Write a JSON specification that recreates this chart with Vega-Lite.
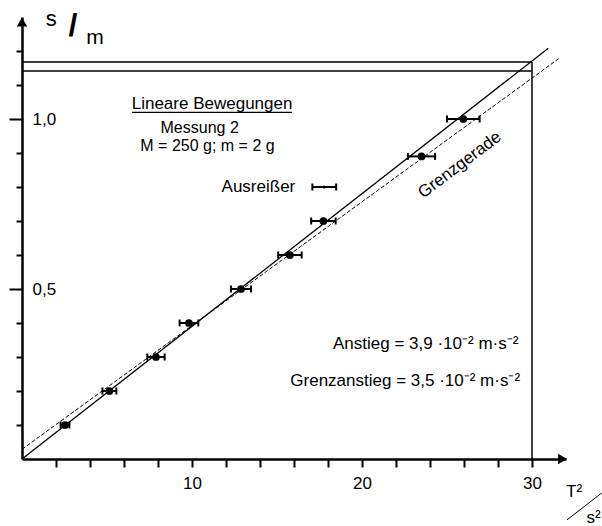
{
  "$schema": "https://vega.github.io/schema/vega-lite/v6.json",
  "width": 544,
  "height": 442,
  "autosize": {"type": "none"},
  "padding": {"left": 22, "top": 17, "right": 36, "bottom": 67},
  "background": "white",
  "config": {
    "view": {"stroke": null},
    "font": "Liberation Sans",
    "text": {"font": "Liberation Sans", "color": "black"},
    "axis": {"labelFont": "Liberation Sans", "labelColor": "black", "domainColor": "black", "tickColor": "black", "grid": false, "title": null}
  },
  "datasets": {
    "pts": [
      {"T2": 2.53, "s": 0.1, "lo": 2.27, "hi": 2.79, "kind": "Messung"},
      {"T2": 5.14, "s": 0.2, "lo": 4.73, "hi": 5.55, "kind": "Messung"},
      {"T2": 7.88, "s": 0.3, "lo": 7.37, "hi": 8.39, "kind": "Messung"},
      {"T2": 9.82, "s": 0.4, "lo": 9.27, "hi": 10.37, "kind": "Messung"},
      {"T2": 12.88, "s": 0.5, "lo": 12.29, "hi": 13.47, "kind": "Messung"},
      {"T2": 15.76, "s": 0.6, "lo": 15.07, "hi": 16.45, "kind": "Messung"},
      {"T2": 17.73, "s": 0.7, "lo": 17.01, "hi": 18.45, "kind": "Messung"},
      {"T2": 17.78, "s": 0.8, "lo": 17.08, "hi": 18.48, "kind": "Ausreißer"},
      {"T2": 23.5, "s": 0.89, "lo": 22.7, "hi": 24.3, "kind": "Messung"},
      {"T2": 25.96, "s": 1.0, "lo": 25.0, "hi": 26.92, "kind": "Messung"}
    ],
    "lines": [
      {"line": "Anstieg", "T2": 0, "s": 0},
      {"line": "Anstieg", "T2": 30.96, "s": 1.208},
      {"line": "Grenz", "T2": 0, "s": 0.0285},
      {"line": "Grenz", "T2": 31.6, "s": 1.1785}
    ],
    "frame": [
      {"x1": 0, "x2": 30, "y1": 1.168, "y2": 1.168},
      {"x1": 0, "x2": 30, "y1": 1.141, "y2": 1.141},
      {"x1": 30, "x2": 30, "y1": 0, "y2": 1.168}
    ],
    "one": [{}]
  },
  "resolve": {"axis": {"y": "independent", "x": "independent"}},
  "layer": [
    {
      "data": {"name": "pts"},
      "mark": {"type": "rule", "strokeWidth": 2, "color": "black"},
      "encoding": {
        "x": {"field": "lo", "type": "quantitative", "scale": {"domain": [0, 32], "nice": false},
          "axis": {"orient": "bottom", "values": [2,4,6,8,10,12,14,16,18,20,22,24,26,28,30], "tickSize": 8, "tickWidth": 2, "domainWidth": 2.5, "domainColor": "black", "tickColor": "black", "labelColor": "black",
            "labelExpr": "datum.value % 10 === 0 ? datum.label : ''", "labelFontSize": 17, "labelPadding": 8, "labelFlush": false, "labelOverlap": false, "title": null}},
        "x2": {"field": "hi"},
        "y": {"field": "s", "type": "quantitative", "scale": {"domain": [0, 1.3], "nice": false},
          "axis": {"orient": "left", "values": [0.1,0.2,0.3,0.4,0.6,0.7,0.8,0.9,1.1,1.2], "tickSize": 6, "tickWidth": 2, "domain": false, "labels": false, "title": null}}
      }
    },
    {
      "data": {"name": "pts"},
      "mark": {"type": "tick", "orient": "vertical", "size": 7, "thickness": 2, "color": "black", "opacity": 1},
      "encoding": {
        "x": {"field": "lo", "type": "quantitative", "axis": null},
        "y": {"field": "s", "type": "quantitative", "axis": null}
      }
    },
    {
      "data": {"name": "pts"},
      "mark": {"type": "tick", "orient": "vertical", "size": 7, "thickness": 2, "color": "black", "opacity": 1},
      "encoding": {
        "x": {"field": "hi", "type": "quantitative", "axis": null},
        "y": {"field": "s", "type": "quantitative", "axis": null}
      }
    },
    {
      "data": {"name": "pts"},
      "transform": [{"filter": "datum.kind === 'Messung'"}],
      "mark": {"type": "circle", "size": 60, "color": "black", "opacity": 1},
      "encoding": {
        "x": {"field": "T2", "type": "quantitative", "axis": null},
        "y": {"field": "s", "type": "quantitative",
          "axis": {"orient": "left", "values": [0.5, 1], "tickSize": 13, "tickWidth": 2, "domainWidth": 2.5, "domainColor": "black", "tickColor": "black", "labelColor": "black",
            "labelAlign": "left", "labelBaseline": "middle", "labelPadding": -23, "labelFontSize": 17,
            "labelExpr": "replace(format(datum.value, '.1f'), '.', ',')", "labelFlush": false, "labelOverlap": false, "title": null}}
      }
    },
    {
      "data": {"name": "pts"},
      "transform": [{"filter": "datum.kind === 'Ausreißer'"}],
      "mark": {"type": "circle", "size": 10, "color": "black", "opacity": 1},
      "encoding": {
        "x": {"field": "T2", "type": "quantitative", "axis": null},
        "y": {"field": "s", "type": "quantitative", "axis": null}
      }
    },
    {
      "data": {"name": "lines"},
      "transform": [{"filter": "datum.line === 'Anstieg'"}],
      "mark": {"type": "line", "color": "black", "strokeWidth": 1.3},
      "encoding": {
        "x": {"field": "T2", "type": "quantitative", "axis": null},
        "y": {"field": "s", "type": "quantitative", "axis": null}
      }
    },
    {
      "data": {"name": "lines"},
      "transform": [{"filter": "datum.line === 'Grenz'"}],
      "mark": {"type": "line", "color": "black", "strokeWidth": 1, "strokeDash": [4, 2]},
      "encoding": {
        "x": {"field": "T2", "type": "quantitative", "axis": null},
        "y": {"field": "s", "type": "quantitative", "axis": null}
      }
    },
    {
      "data": {"name": "frame"},
      "mark": {"type": "rule", "color": "black", "strokeWidth": 1.5},
      "encoding": {
        "x": {"field": "x1", "type": "quantitative", "axis": null},
        "x2": {"field": "x2"},
        "y": {"field": "y1", "type": "quantitative", "axis": null},
        "y2": {"field": "y2"}
      }
    },
    {
      "data": {"name": "one"},
      "mark": {"type": "point", "shape": "triangle-up", "filled": true, "size": 110, "color": "black", "opacity": 1},
      "encoding": {
        "x": {"datum": 0, "type": "quantitative", "axis": null},
        "y": {"datum": 1.2853, "type": "quantitative", "axis": null}
      }
    },
    {
      "data": {"name": "one"},
      "mark": {"type": "point", "shape": "triangle-right", "filled": true, "size": 110, "color": "black", "opacity": 1},
      "encoding": {
        "x": {"datum": 31.8, "type": "quantitative", "axis": null},
        "y": {"datum": 0, "type": "quantitative", "axis": null}
      }
    },
    {
      "data": {"name": "one"},
      "mark": {"type": "text", "text": "s", "fontSize": 22, "align": "center", "baseline": "alphabetic"},
      "encoding": {
        "x": {"datum": 1.72, "type": "quantitative", "axis": null},
        "y": {"datum": 1.2735, "type": "quantitative", "axis": null}
      }
    },
    {
      "data": {"name": "one"},
      "mark": {"type": "text", "text": "/", "fontSize": 32, "fontWeight": "bold", "align": "center", "baseline": "alphabetic"},
      "encoding": {
        "x": {"datum": 3.0, "type": "quantitative", "axis": null},
        "y": {"datum": 1.245, "type": "quantitative", "axis": null}
      }
    },
    {
      "data": {"name": "one"},
      "mark": {"type": "text", "text": "m", "fontSize": 21, "align": "center", "baseline": "alphabetic"},
      "encoding": {
        "x": {"datum": 4.29, "type": "quantitative", "axis": null},
        "y": {"datum": 1.2206, "type": "quantitative", "axis": null}
      }
    },
    {
      "data": {"name": "one"},
      "mark": {"type": "text", "text": "Lineare Bewegungen", "fontSize": 17, "align": "center", "baseline": "alphabetic"},
      "encoding": {
        "x": {"datum": 11.18, "type": "quantitative", "axis": null},
        "y": {"datum": 1.0285, "type": "quantitative", "axis": null}
      }
    },
    {
      "data": {"name": "one"},
      "mark": {"type": "rule", "color": "black", "strokeWidth": 1.3},
      "encoding": {
        "x": {"datum": 6.47, "type": "quantitative", "axis": null},
        "x2": {"datum": 15.88},
        "y": {"datum": 1.0197, "type": "quantitative", "axis": null}
      }
    },
    {
      "data": {"name": "one"},
      "mark": {"type": "text", "text": "Messung 2", "fontSize": 16, "align": "center", "baseline": "alphabetic"},
      "encoding": {
        "x": {"datum": 10.45, "type": "quantitative", "axis": null},
        "y": {"datum": 0.958, "type": "quantitative", "axis": null}
      }
    },
    {
      "data": {"name": "one"},
      "mark": {"type": "text", "text": "M = 250 g; m = 2 g", "fontSize": 16, "align": "center", "baseline": "alphabetic"},
      "encoding": {
        "x": {"datum": 10.91, "type": "quantitative", "axis": null},
        "y": {"datum": 0.9068, "type": "quantitative", "axis": null}
      }
    },
    {
      "data": {"name": "one"},
      "mark": {"type": "text", "text": "Ausreißer", "fontSize": 17, "align": "left", "baseline": "alphabetic"},
      "encoding": {
        "x": {"datum": 11.74, "type": "quantitative", "axis": null},
        "y": {"datum": 0.7844, "type": "quantitative", "axis": null}
      }
    },
    {
      "data": {"name": "one"},
      "mark": {"type": "text", "text": "Grenzgerade", "fontSize": 17, "align": "center", "baseline": "middle", "angle": -37},
      "encoding": {
        "x": {"datum": 25.75, "type": "quantitative", "axis": null},
        "y": {"datum": 0.865, "type": "quantitative", "axis": null}
      }
    },
    {
      "data": {"name": "one"},
      "mark": {"type": "text", "text": "Anstieg = 3,9 ·10⁻² m·s⁻²", "fontSize": 17, "align": "right", "baseline": "alphabetic"},
      "encoding": {
        "x": {"datum": 29.2, "type": "quantitative", "axis": null},
        "y": {"datum": 0.3235, "type": "quantitative", "axis": null}
      }
    },
    {
      "data": {"name": "one"},
      "mark": {"type": "text", "text": "Grenzanstieg = 3,5 ·10⁻² m·s⁻²", "fontSize": 17, "align": "right", "baseline": "alphabetic"},
      "encoding": {
        "x": {"datum": 29.3, "type": "quantitative", "axis": null},
        "y": {"datum": 0.2147, "type": "quantitative", "axis": null}
      }
    },
    {
      "data": {"name": "one"},
      "mark": {"type": "text", "text": "T²", "fontSize": 17, "align": "left", "baseline": "alphabetic"},
      "encoding": {
        "x": {"datum": 32.0, "type": "quantitative", "axis": null},
        "y": {"datum": -0.112, "type": "quantitative", "axis": null}
      }
    },
    {
      "data": {"name": "one"},
      "mark": {"type": "rule", "color": "black", "strokeWidth": 1},
      "encoding": {
        "x": {"datum": 32.06, "type": "quantitative", "axis": null},
        "x2": {"datum": 34.1},
        "y": {"datum": -0.179, "type": "quantitative", "axis": null},
        "y2": {"datum": -0.1}
      }
    },
    {
      "data": {"name": "one"},
      "mark": {"type": "text", "text": "s²", "fontSize": 17, "align": "left", "baseline": "alphabetic"},
      "encoding": {
        "x": {"datum": 33.2, "type": "quantitative", "axis": null},
        "y": {"datum": -0.188, "type": "quantitative", "axis": null}
      }
    }
  ]
}
